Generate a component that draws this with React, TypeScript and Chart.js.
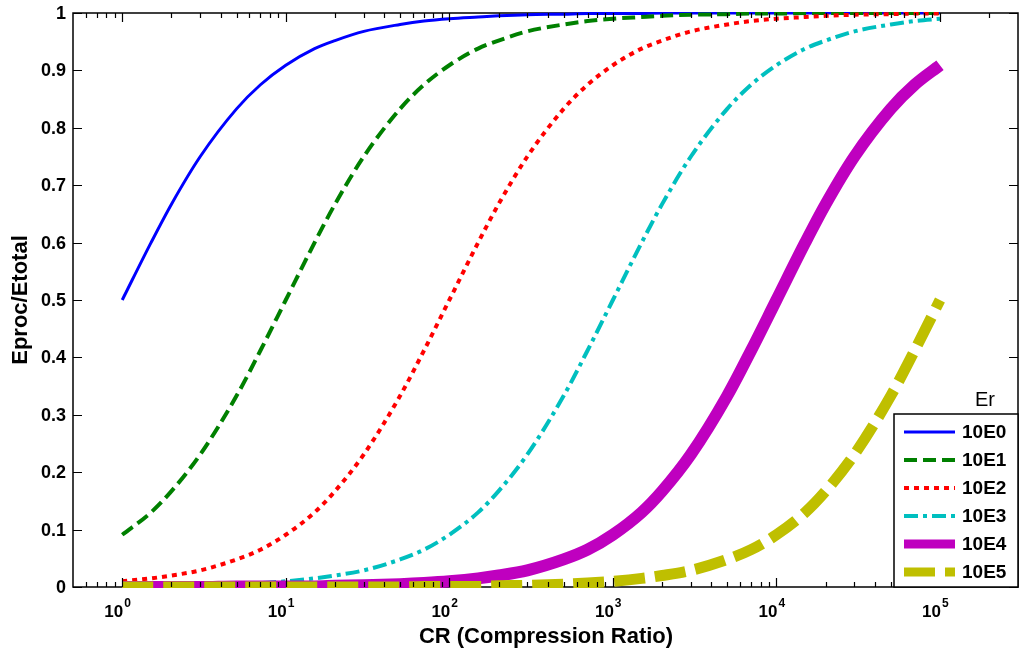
import { useEffect, useRef } from 'react'
import { Chart, registerables } from 'chart.js'

Chart.register(...registerables)

// compression ratio sample points (x axis, log)
const CR = [
  1, 1.5, 2, 3, 5, 7, 10, 15, 20, 30, 50, 70, 100, 150, 200, 300, 500, 700, 1000, 1500, 2000, 3000, 5000, 7000,
  10000, 15000, 20000, 30000, 50000, 70000, 100000,
]

// Eproc/Etotal
const ER_1E0 = [
  0.5, 0.6, 0.667, 0.75, 0.833, 0.875, 0.909, 0.938, 0.952, 0.968, 0.98, 0.986, 0.99, 0.993, 0.995, 0.997, 0.998,
  0.999, 0.999, 0.999, 1, 1, 1, 1, 1, 1, 1, 1, 1, 1, 1,
]
const ER_1E1 = [
  0.091, 0.13, 0.167, 0.231, 0.333, 0.412, 0.5, 0.6, 0.667, 0.75, 0.833, 0.875, 0.909, 0.938, 0.952, 0.968, 0.98,
  0.986, 0.99, 0.993, 0.995, 0.997, 0.998, 0.999, 0.999, 1, 1, 1, 1, 1, 1,
]
const ER_1E2 = [
  0.01, 0.015, 0.02, 0.029, 0.048, 0.065, 0.091, 0.13, 0.167, 0.231, 0.333, 0.412, 0.5, 0.6, 0.667, 0.75, 0.833,
  0.875, 0.909, 0.938, 0.952, 0.968, 0.98, 0.986, 0.99, 0.993, 0.995, 0.997, 0.998, 0.999, 0.999,
]
const ER_1E3 = [
  0.001, 0.001, 0.002, 0.003, 0.005, 0.007, 0.01, 0.015, 0.02, 0.029, 0.048, 0.065, 0.091, 0.13, 0.167, 0.231, 0.333,
  0.412, 0.5, 0.6, 0.667, 0.75, 0.833, 0.875, 0.909, 0.938, 0.952, 0.968, 0.98, 0.986, 0.99,
]
const ER_1E4 = [
  0, 0, 0, 0, 0.001, 0.001, 0.001, 0.001, 0.002, 0.003, 0.005, 0.007, 0.01, 0.015, 0.02, 0.029, 0.048, 0.065, 0.091,
  0.13, 0.167, 0.231, 0.333, 0.412, 0.5, 0.6, 0.667, 0.75, 0.833, 0.875, 0.909,
]
const ER_1E5 = [
  0, 0, 0, 0, 0, 0, 0, 0, 0, 0, 0, 0.001, 0.001, 0.001, 0.002, 0.003, 0.005, 0.007, 0.01, 0.015, 0.02, 0.029, 0.048,
  0.065, 0.091, 0.13, 0.167, 0.231, 0.333, 0.412, 0.5,
]

const LABELS = ['10E0', '10E1', '10E2', '10E3', '10E4', '10E5']
const VALUES = [ER_1E0, ER_1E1, ER_1E2, ER_1E3, ER_1E4, ER_1E5]
const COLORS = ['#0000ff', '#008000', '#ff0000', '#00bfbf', '#bf00bf', '#bfbf00']
const WIDTHS = [3, 4, 4, 4, 12, 11]
const DASHES = [[], [13, 6], [5, 5], [14, 5, 4, 5], [], [31, 10]]

const X_MAJOR_EXP = [0, 1, 2, 3, 4, 5]
const Y_TICKS = [0, 0.1, 0.2, 0.3, 0.4, 0.5, 0.6, 0.7, 0.8, 0.9, 1]
const X_MIN = 0.5
const X_MAX = 300000

const FONT = '"Liberation Sans", Arial, Helvetica, sans-serif'

const axesPlugin = {
  id: 'matlabAxes',
  beforeDatasetsDraw(chart: Chart) {
    const { ctx, chartArea: a } = chart
    ctx.save()
    ctx.strokeStyle = '#000'
    ctx.lineWidth = 1.5
    ctx.strokeRect(a.left, a.top, a.right - a.left, a.bottom - a.top)
    ctx.restore()
  },
  afterDatasetsDraw(chart: Chart) {
    const { ctx, chartArea: a } = chart
    const xs = chart.scales.x
    const ys = chart.scales.y
    ctx.save()
    ctx.strokeStyle = '#000'
    ctx.lineWidth = 1.2
    ctx.beginPath()
    // x ticks, inward on bottom and top
    for (let e = -1; e <= 5; e++) {
      for (let m = 1; m <= 9; m++) {
        const v = m * Math.pow(10, e)
        if (v <= X_MIN || v >= X_MAX) continue
        const px = Math.round(xs.getPixelForValue(v)) + 0.5
        const len = m === 1 ? 9 : 5
        ctx.moveTo(px, a.bottom)
        ctx.lineTo(px, a.bottom - len)
        ctx.moveTo(px, a.top)
        ctx.lineTo(px, a.top + len)
      }
    }
    // y ticks, inward on left and right
    Y_TICKS.forEach((v) => {
      const py = Math.round(ys.getPixelForValue(v)) + 0.5
      ctx.moveTo(a.left, py)
      ctx.lineTo(a.left + 9, py)
      ctx.moveTo(a.right, py)
      ctx.lineTo(a.right - 9, py)
    })
    ctx.stroke()

    // y tick labels
    ctx.fillStyle = '#000'
    ctx.font = `bold 18px ${FONT}`
    ctx.textAlign = 'right'
    ctx.textBaseline = 'middle'
    Y_TICKS.forEach((v) => {
      const txt = v === 0 || v === 1 ? String(v) : v.toFixed(1)
      ctx.fillText(txt, a.left - 7, ys.getPixelForValue(v) + 1)
    })

    // x tick labels 10^n
    ctx.textBaseline = 'alphabetic'
    X_MAJOR_EXP.forEach((e) => {
      const px = xs.getPixelForValue(Math.pow(10, e))
      ctx.font = `bold 17px ${FONT}`
      ctx.textAlign = 'right'
      ctx.fillText('10', px + 1, 617)
      ctx.font = `bold 12px ${FONT}`
      ctx.textAlign = 'left'
      ctx.fillText(String(e), px + 2, 607)
    })

    // axis titles
    ctx.font = `bold 22px ${FONT}`
    ctx.textAlign = 'center'
    ctx.textBaseline = 'middle'
    ctx.fillText('CR (Compression Ratio)', (a.left + a.right) / 2 + 0.5, 637)
    ctx.save()
    ctx.translate(21, (a.top + a.bottom) / 2)
    ctx.rotate(-Math.PI / 2)
    ctx.fillText('Eproc/Etotal', 0, 0)
    ctx.restore()

    // legend
    const bx = 894
    const by = 414
    const bw = a.right - bx
    const bh = a.bottom - by
    ctx.fillStyle = '#fff'
    ctx.fillRect(bx, by, bw, bh)
    ctx.strokeStyle = '#000'
    ctx.lineWidth = 1.5
    ctx.strokeRect(bx, by, bw, bh)
    ctx.fillStyle = '#000'
    ctx.font = `20px ${FONT}`
    ctx.textAlign = 'center'
    ctx.fillText('Er', 985, 400)
    LABELS.forEach((lab, i) => {
      const ry = 432 + i * 28
      ctx.save()
      ctx.strokeStyle = COLORS[i]
      ctx.lineWidth = WIDTHS[i] > 8 ? 9 : WIDTHS[i]
      ctx.setLineDash(DASHES[i])
      ctx.beginPath()
      ctx.moveTo(904, ry)
      ctx.lineTo(955, ry)
      ctx.stroke()
      ctx.restore()
      ctx.fillStyle = '#000'
      ctx.font = `bold 19px ${FONT}`
      ctx.textAlign = 'left'
      ctx.fillText(lab, 962, ry + 1)
    })
    ctx.restore()
  },
}

export default function App() {
  const ref = useRef<HTMLCanvasElement>(null)

  useEffect(() => {
    if (!ref.current) return
    const chart = new Chart(ref.current, {
      type: 'line',
      data: {
        datasets: LABELS.map((lab, i) => ({
          label: lab,
          data: CR.map((x, j) => ({ x, y: VALUES[i][j] })),
          borderColor: COLORS[i],
          backgroundColor: COLORS[i],
          borderWidth: WIDTHS[i],
          borderDash: DASHES[i],
          pointRadius: 0,
          fill: false,
          cubicInterpolationMode: 'monotone' as const,
          clip: 1,
          order: LABELS.length - i,
        })),
      },
      options: {
        animation: false,
        responsive: true,
        maintainAspectRatio: false,
        layout: { padding: { left: 73, top: 13, right: 6, bottom: 67 } },
        plugins: { legend: { display: false }, tooltip: { enabled: false } },
        scales: {
          x: { type: 'logarithmic', min: X_MIN, max: X_MAX, display: false },
          y: { type: 'linear', min: 0, max: 1, display: false },
        },
      },
      plugins: [axesPlugin],
    })
    return () => chart.destroy()
  }, [])

  return (
    <div style={{ position: 'absolute', left: 0, top: 0, width: 1024, height: 654, background: '#fff' }}>
      <canvas ref={ref} role="img" aria-label="Eproc/Etotal versus compression ratio" />
    </div>
  )
}
